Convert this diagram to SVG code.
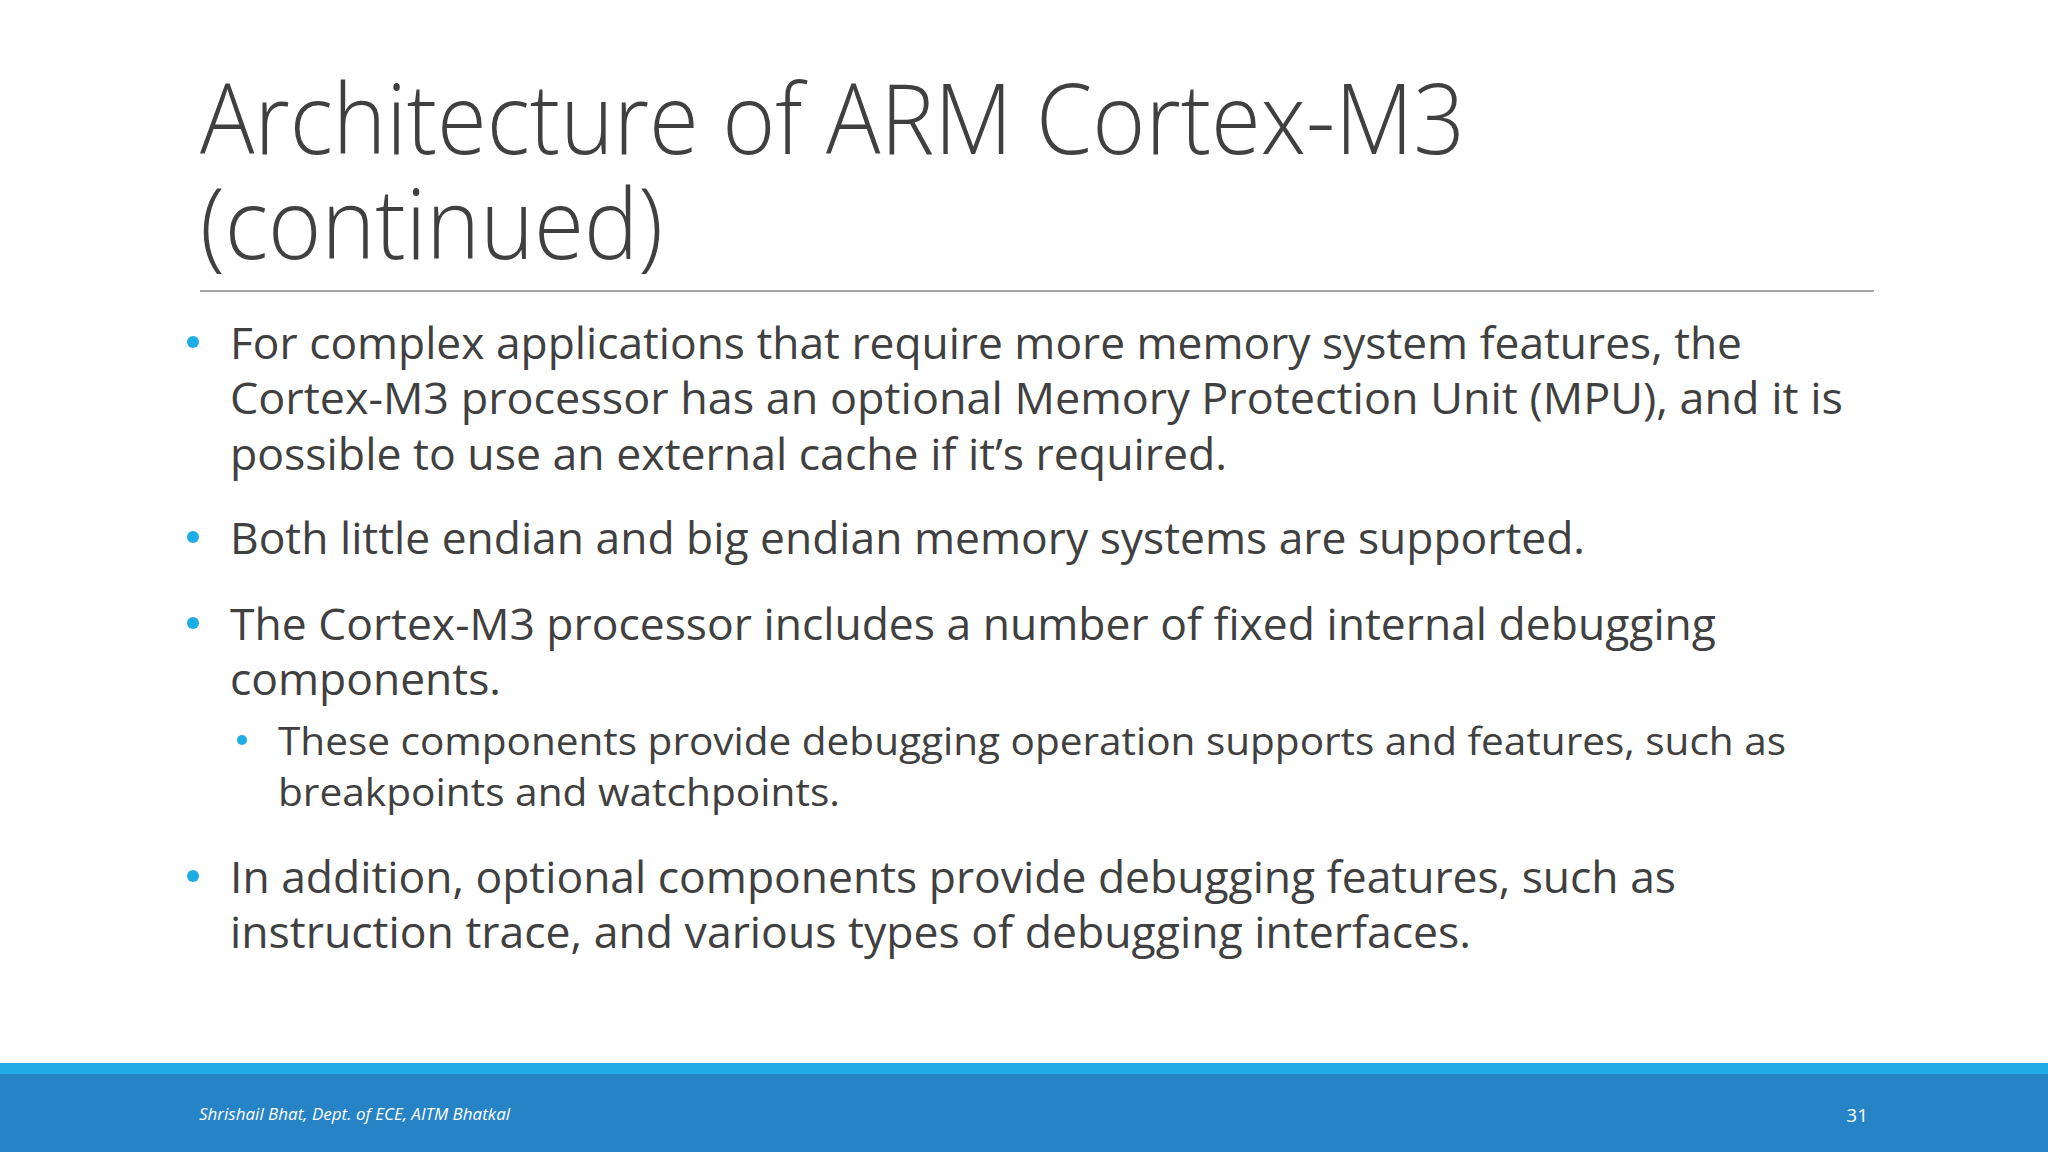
<svg xmlns="http://www.w3.org/2000/svg" width="2048" height="1152" viewBox="0 0 2048 1152">
<style>
.t{font-family:"Open Sans","Liberation Sans",sans-serif;font-weight:300;fill:#404040;font-size:98px}
.b{font-family:"Open Sans","Liberation Sans",sans-serif;fill:#404040;font-size:44px}
.s{font-family:"Open Sans","Liberation Sans",sans-serif;fill:#404040;font-size:39px}
.d{fill:#1cade4}
</style>
<rect width="2048" height="1152" fill="#ffffff"/>
<g id="title">
<text class="t" x="200" y="154" textLength="1265" lengthAdjust="spacingAndGlyphs">Architecture of ARM Cortex-M3</text>
<text class="t" x="200" y="259" textLength="463" lengthAdjust="spacingAndGlyphs">(continued)</text>
<line x1="200" y1="291" x2="1874" y2="291" stroke="#a6a6a6" stroke-width="2"/>
</g>
<g id="body">
<circle class="d" cx="193" cy="342" r="6"/>
<text class="b" x="230" y="359" textLength="1512" lengthAdjust="spacingAndGlyphs">For complex applications that require more memory system features, the</text>
<text class="b" x="230" y="414" textLength="1613" lengthAdjust="spacingAndGlyphs">Cortex-M3 processor has an optional Memory Protection Unit (MPU), and it is</text>
<text class="b" x="230" y="470" textLength="997" lengthAdjust="spacingAndGlyphs">possible to use an external cache if it’s required.</text>
<circle class="d" cx="193" cy="537" r="6"/>
<text class="b" x="230" y="554" textLength="1355" lengthAdjust="spacingAndGlyphs">Both little endian and big endian memory systems are supported.</text>
<circle class="d" cx="193" cy="623" r="6"/>
<text class="b" x="230" y="640" textLength="1486" lengthAdjust="spacingAndGlyphs">The Cortex-M3 processor includes a number of fixed internal debugging</text>
<text class="b" x="230" y="695" textLength="271" lengthAdjust="spacingAndGlyphs">components.</text>
<circle class="d" cx="242" cy="740" r="5"/>
<text class="s" x="278" y="755" textLength="1508" lengthAdjust="spacingAndGlyphs">These components provide debugging operation supports and features, such as</text>
<text class="s" x="278" y="806" textLength="562" lengthAdjust="spacingAndGlyphs">breakpoints and watchpoints.</text>
<circle class="d" cx="193" cy="876" r="6"/>
<text class="b" x="230" y="893" textLength="1446" lengthAdjust="spacingAndGlyphs">In addition, optional components provide debugging features, such as</text>
<text class="b" x="230" y="948" textLength="1241" lengthAdjust="spacingAndGlyphs">instruction trace, and various types of debugging interfaces.</text>
</g>
<g id="footer">
<rect x="0" y="1063" width="2048" height="11" fill="#1cade4"/>
<rect x="0" y="1074" width="2048" height="78" fill="#2683c6"/>
<text x="199" y="1120" font-family="Open Sans,Liberation Sans,sans-serif" font-style="italic" font-size="17" fill="#ffffff">Shrishail Bhat, Dept. of ECE, AITM Bhatkal</text>
<text x="1868" y="1122" text-anchor="end" font-family="Open Sans,Liberation Sans,sans-serif" font-size="19" fill="#ffffff">31</text>
</g>
</svg>
